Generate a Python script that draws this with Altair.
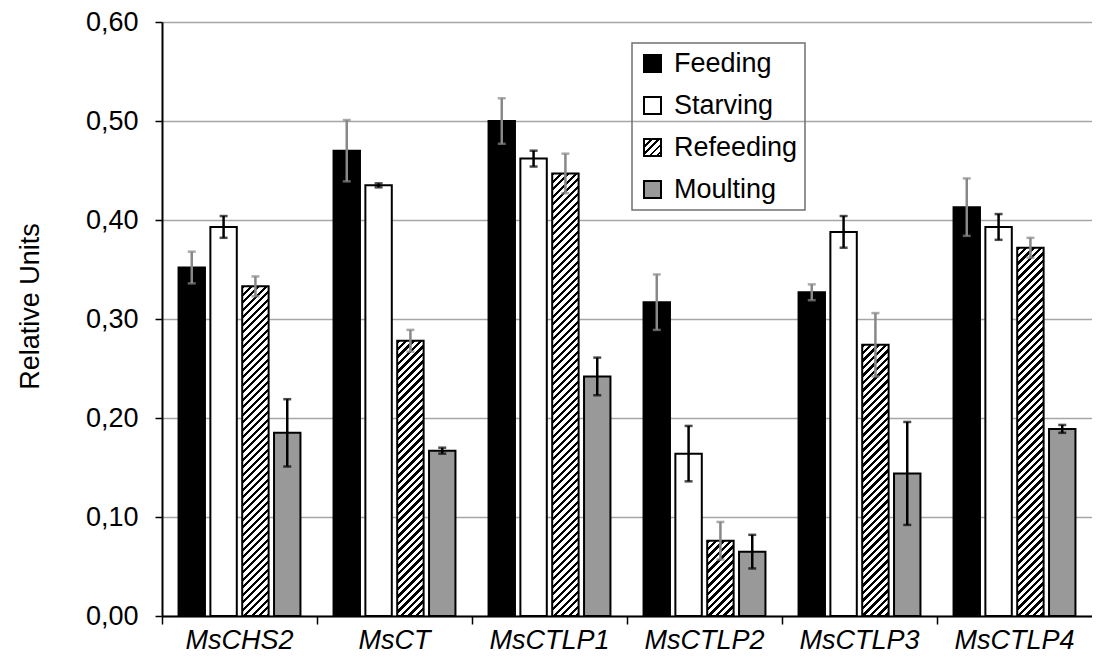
import altair as alt

# ---------------- data ----------------
genes = ["MsCHS2", "MsCT", "MsCTLP1", "MsCTLP2", "MsCTLP3", "MsCTLP4"]
series = ["Feeding", "Starving", "Refeeding", "Moulting"]

feeding = [0.352, 0.470, 0.500, 0.317, 0.327, 0.413]
feeding_err = [0.016, 0.031, 0.023, 0.028, 0.008, 0.029]
starving = [0.393, 0.435, 0.462, 0.164, 0.388, 0.393]
starving_err = [0.011, 0.002, 0.008, 0.028, 0.016, 0.013]
refeeding = [0.333, 0.278, 0.447, 0.076, 0.274, 0.372]
refeeding_err = [0.010, 0.011, 0.020, 0.019, 0.032, 0.010]
moulting = [0.185, 0.167, 0.242, 0.065, 0.144, 0.189]
moulting_err = [0.034, 0.003, 0.019, 0.017, 0.052, 0.004]

y_ticks = [0.0, 0.1, 0.2, 0.3, 0.4, 0.5, 0.6]

values = {"Feeding": feeding, "Starving": starving, "Refeeding": refeeding, "Moulting": moulting}
errors = {"Feeding": feeding_err, "Starving": starving_err, "Refeeding": refeeding_err, "Moulting": moulting_err}

# ---------------- style ----------------
FONT = "Liberation Sans"
W, H = 930, 594
YMAX = 0.6
PI, PO = 0.17, 0.52
band = W / len(genes)
step = band / (len(series) - PI + 2 * PO)
bar_w = step * (1 - PI)

solid = {"Feeding": "#000000", "Starving": "#ffffff", "Moulting": "#999999"}
err_col = {"Feeding": "#888888", "Starving": "#000000", "Refeeding": "#888888", "Moulting": "#000000"}


def hatch(w, h, period=7.5, frac=0.42):
    """Diagonal '/' stripes as a linear gradient in bounding-box units."""
    L = w + h
    stops = []
    k = 0
    while True:
        a = k * period / L
        if a >= 1:
            break
        b = min((k * period + frac * period) / L, 1.0)
        stops += [
            {"offset": round(a, 5), "color": "#ffffff"},
            {"offset": round(a, 5), "color": "#000000"},
            {"offset": round(b, 5), "color": "#000000"},
            {"offset": round(b, 5), "color": "#ffffff"},
        ]
        k += 1
    d = w * w + h * h
    return {"gradient": "linear", "x1": 0, "y1": 0,
            "x2": round(w * L / d, 6), "y2": round(h * L / d, 6), "stops": stops}


def grad_expr(g):
    st = ",".join("{offset:%s,color:'%s'}" % (s["offset"], s["color"]) for s in g["stops"])
    return "{gradient:'linear',x1:0,y1:0,x2:%s,y2:%s,stops:[%s]}" % (g["x2"], g["y2"], st)


rows = []
for s in series:
    for i, g in enumerate(genes):
        v = values[s][i]
        e = errors[s][i]
        if s == "Refeeding":
            f = hatch(bar_w, v / YMAX * H)
        else:
            f = solid[s]
        rows.append({"gene": g, "series": s, "value": v, "lo": v - e, "hi": v + e,
                     "fillv": f, "errc": err_col[s]})

data = alt.Data(values=rows)

x_enc = alt.X("gene:N", sort=genes, title=None,
              scale=alt.Scale(paddingInner=0, paddingOuter=0),
              axis=alt.Axis(bandPosition=0, tickSize=8, tickWidth=1.5,
                            tickColor="#000000", domainColor="#000000", domainWidth=2,
                            labelFontSize=27, labelFontStyle="italic", labelPadding=3,
                            labelAngle=0, grid=False, labelColor="#000000"))
xo_enc = alt.XOffset("series:N", sort=series,
                     scale=alt.Scale(domain=series, paddingInner=PI, paddingOuter=PO))

y_axis = alt.Axis(values=y_ticks,
                  labelExpr="replace(format(datum.value, '.2f'), '.', ',')",
                  tickSize=7, tickWidth=1.5, tickColor="#000000",
                  domainColor="#000000", domainWidth=2,
                  labelFontSize=27, labelPadding=17, labelColor="#000000",
                  grid=True, gridColor="#a6a6a6", gridWidth=1.5,
                  title="Relative Units", titleFontSize=27, titleFontWeight="normal",
                  titleColor="#000000", titleAngle=270, titleX=-132, titleY=284,
                  titleAlign="center", titleBaseline="middle")

bars = alt.Chart(data).mark_bar(stroke="#000000", strokeWidth=2).encode(
    x=x_enc,
    xOffset=xo_enc,
    y=alt.Y("value:Q", stack=None, scale=alt.Scale(domain=[0, YMAX], nice=False), axis=y_axis),
    fill=alt.Fill("fillv:N", scale=None),
)

err_rule = alt.Chart(data).mark_rule(strokeWidth=2.5).encode(
    x=alt.X("gene:N", sort=genes),
    xOffset=xo_enc,
    y="lo:Q",
    y2="hi:Q",
    color=alt.Color("errc:N", scale=None),
)
cap_lo = alt.Chart(data).mark_tick(size=8, thickness=2.5).encode(
    x=alt.X("gene:N", sort=genes),
    xOffset=xo_enc,
    y="lo:Q",
    color=alt.Color("errc:N", scale=None),
)
cap_hi = alt.Chart(data).mark_tick(size=8, thickness=2.5).encode(
    x=alt.X("gene:N", sort=genes),
    xOffset=xo_enc,
    y="hi:Q",
    color=alt.Color("errc:N", scale=None),
)

legend_range = [solid["Feeding"], solid["Starving"], alt.ExprRef(grad_expr(hatch(17, 17, period=7.0))),
                solid["Moulting"]]
legend_layer = alt.Chart(data).transform_filter("false").mark_square().encode(
    fill=alt.Fill("series:N",
                  scale=alt.Scale(domain=series, range=legend_range),
                  legend=alt.Legend(title=None, orient="none", legendX=470, legendY=21,
                                    symbolType="square", symbolSize=289,
                                    symbolStrokeColor="#000000", symbolStrokeWidth=2,
                                    labelFontSize=27, labelColor="#000000", labelOffset=8,
                                    labelLimit=400, rowPadding=14, padding=7,
                                    strokeColor="#707070")),
)

chart = alt.layer(bars, err_rule, cap_lo, cap_hi, legend_layer).properties(
    width=W, height=H,
    padding={"left": 154, "top": 14, "right": 0, "bottom": 40},
    autosize=alt.AutoSizeParams(type="none"),
).configure_view(stroke=None).configure_axis(
    labelFont=FONT, titleFont=FONT
).configure_legend(
    labelFont=FONT, strokeWidth=1.5
)

chart.save("out.html", embed_options={"renderer": "svg", "actions": False})
